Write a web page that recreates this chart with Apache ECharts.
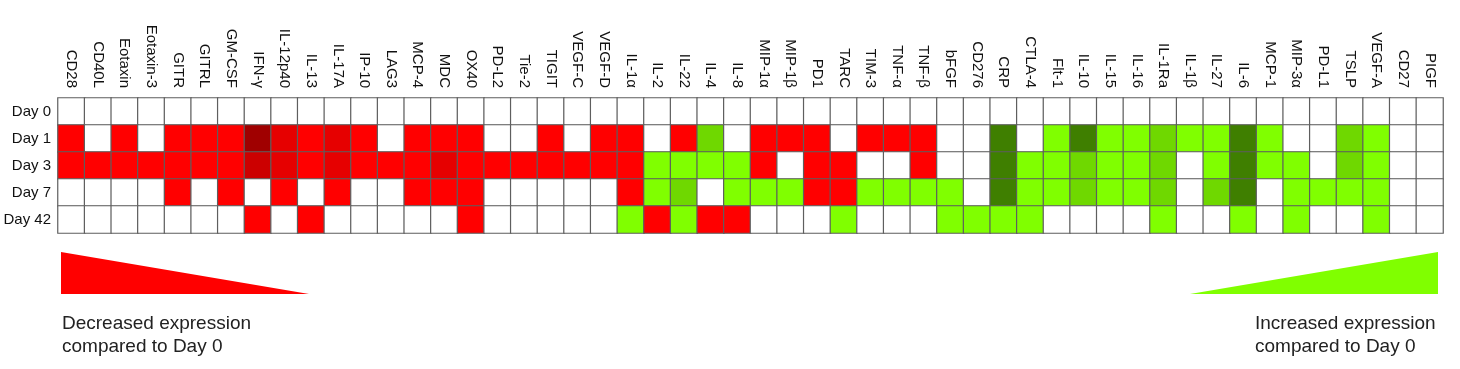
<!DOCTYPE html>
<html>
<head>
<meta charset="utf-8">
<script src="https://cdn.jsdelivr.net/npm/echarts@6/dist/echarts.min.js"></script>
<style>
  html, body { margin: 0; padding: 0; background: #fff; }
  #chart { width: 1460px; height: 369px; }
</style>
</head>
<body>
<div id="chart"></div>
<script>
// 标记物（列）
var markers = ['CD28', 'CD40L', 'Eotaxin', 'Eotaxin-3', 'GITR', 'GITRL', 'GM-CSF', 'IFN-γ', 'IL-12p40', 'IL-13',
  'IL-17A', 'IP-10', 'LAG3', 'MCP-4', 'MDC', 'OX40', 'PD-L2', 'Tie-2', 'TIGIT', 'VEGF-C',
  'VEGF-D', 'IL-1α', 'IL-2', 'IL-22', 'IL-4', 'IL-8', 'MIP-1α', 'MIP-1β', 'PD1', 'TARC',
  'TIM-3', 'TNF-α', 'TNF-β', 'bFGF', 'CD276', 'CRP', 'CTLA-4', 'Flt-1', 'IL-10', 'IL-15',
  'IL-16', 'IL-1Ra', 'IL-1β', 'IL-27', 'IL-6', 'MCP-1', 'MIP-3α', 'PD-L1', 'TSLP', 'VEGF-A',
  'CD27', 'PIGF'];
var days = ['Day 0', 'Day 1', 'Day 3', 'Day 7', 'Day 42'];

// 变化等级：负数=下降(红)，正数=上升(绿)，0=无变化
var day0 = [0, 0, 0, 0, 0, 0, 0, 0, 0, 0, 0, 0, 0, 0, 0, 0, 0, 0, 0, 0, 0, 0, 0, 0, 0, 0,
  0, 0, 0, 0, 0, 0, 0, 0, 0, 0, 0, 0, 0, 0, 0, 0, 0, 0, 0, 0, 0, 0, 0, 0, 0, 0];
var day1 = [-1, 0, -1, 0, -1, -1, -1, -4, -2, -1, -2, -1, 0, -1, -1, -1, 0, 0, -1, 0, -1, -1, 0, -1, 2, 0,
  -1, -1, -1, 0, -1, -1, -1, 0, 0, 3, 0, 1, 3, 1, 1, 2, 1, 1, 3, 1, 0, 0, 2, 1, 0, 0];
var day3 = [-1, -1, -1, -1, -1, -1, -1, -3, -2, -1, -2, -1, -1, -1, -2, -1, -1, -1, -1, -1, -1, -1, 1, 1, 1, 1,
  -1, 0, -1, -1, 0, 0, -1, 0, 0, 3, 1, 1, 2, 1, 1, 2, 0, 1, 3, 1, 1, 0, 2, 1, 0, 0];
var day7 = [0, 0, 0, 0, -1, 0, -1, 0, -1, 0, -1, 0, 0, -1, -1, -1, 0, 0, 0, 0, 0, -1, 1, 2, 0, 1,
  1, 1, -1, -1, 1, 1, 1, 1, 0, 3, 1, 1, 2, 1, 1, 2, 0, 2, 3, 0, 1, 1, 1, 1, 0, 0];
var day42 = [0, 0, 0, 0, 0, 0, 0, -1, 0, -1, 0, 0, 0, 0, 0, -1, 0, 0, 0, 0, 0, 1, -1, 1, -1, -1,
  0, 0, 0, 1, 0, 0, 0, 1, 1, 1, 1, 0, 0, 0, 0, 1, 0, 0, 1, 0, 1, 0, 0, 1, 0, 0];

var rows = [day0, day1, day3, day7, day42];
var heatData = [];
for (var r = 0; r < rows.length; r++) {
  for (var c = 0; c < rows[r].length; c++) {
    heatData.push([c, r, rows[r][c]]);
  }
}

var myChart = echarts.init(document.getElementById('chart'));
var font = 'Liberation Sans, Arial, sans-serif';
var option = {
  animation: false,
  backgroundColor: '#fff',
  grid: {
    left: 58,
    right: 17,
    top: 98,
    bottom: 136
  },
  xAxis: {
    type: 'category',
    position: 'top',
    data: markers,
    axisLine: { show: false },
    axisTick: { show: false },
    splitLine: { show: false },
    axisLabel: {
      interval: 0,
      rotate: 90,
      margin: 10,
      color: '#111',
      fontSize: 15,
      fontFamily: font
    }
  },
  yAxis: {
    type: 'category',
    data: days,
    inverse: true,
    axisLine: { show: false },
    axisTick: { show: false },
    splitLine: { show: false },
    axisLabel: {
      margin: 7,
      color: '#111',
      fontSize: 15,
      fontFamily: font
    }
  },
  visualMap: {
    type: 'piecewise',
    show: false,
    dimension: 2,
    pieces: [
      { value: -4, color: '#a00000' },
      { value: -3, color: '#cc0000' },
      { value: -2, color: '#e60000' },
      { value: -1, color: '#ff0000' },
      { value: 0, color: '#ffffff' },
      { value: 1, color: '#80ff00' },
      { value: 2, color: '#6fd800' },
      { value: 3, color: '#3f7f00' }
    ]
  },
  series: [{
    type: 'heatmap',
    data: heatData,
    itemStyle: {
      borderColor: '#5e5e5e',
      borderWidth: 1.2
    },
    emphasis: { disabled: true }
  }],
  graphic: [
    {
      type: 'polygon',
      shape: { points: [[61, 252], [61, 294], [309, 294]] },
      style: { fill: '#ff0000' }
    },
    {
      type: 'polygon',
      shape: { points: [[1190, 294], [1438, 252], [1438, 294]] },
      style: { fill: '#80ff00' }
    },
    {
      type: 'text',
      left: 62,
      top: 312,
      style: {
        text: 'Decreased expression\ncompared to Day 0',
        fill: '#222',
        font: '19px ' + font,
        lineHeight: 23
      }
    },
    {
      type: 'text',
      left: 1255,
      top: 312,
      style: {
        text: 'Increased expression\ncompared to Day 0',
        fill: '#222',
        font: '19px ' + font,
        lineHeight: 23
      }
    }
  ]
};
myChart.setOption(option);
</script>
</body>
</html>
